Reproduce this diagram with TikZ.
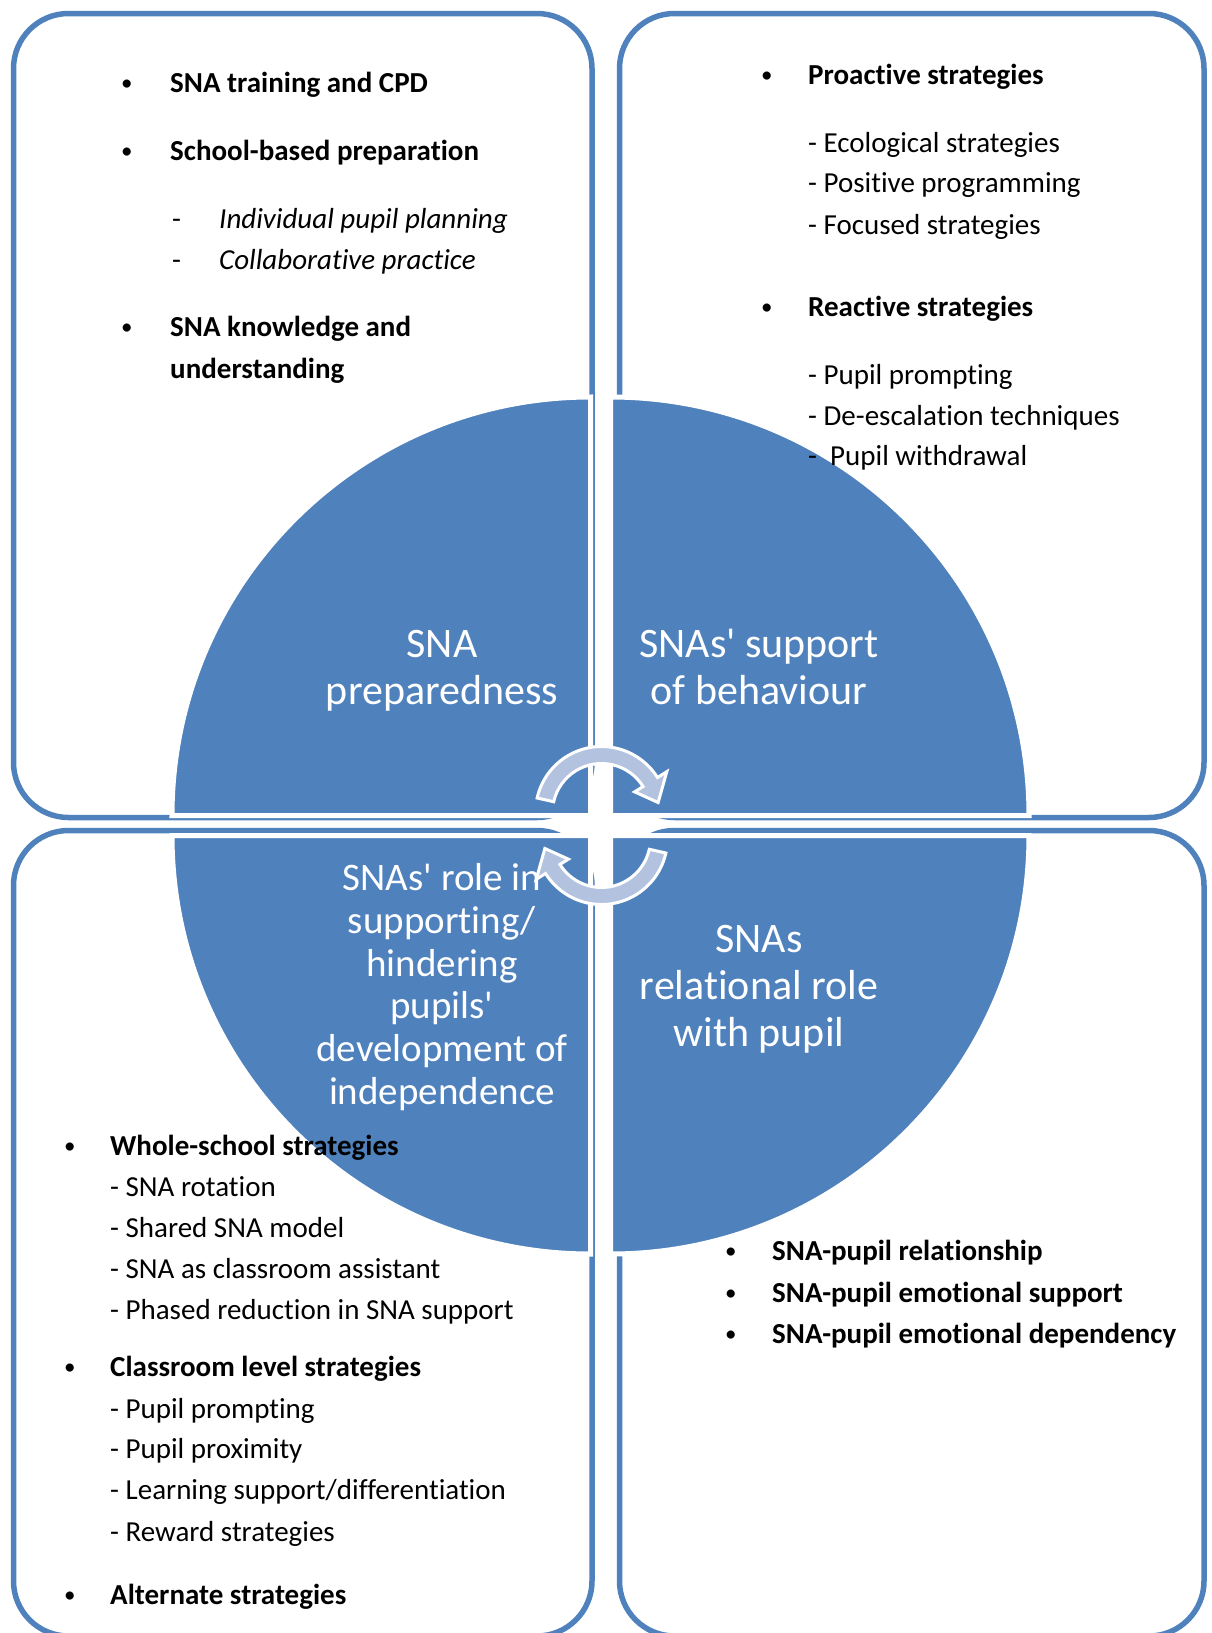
\documentclass[tikz,border=0pt]{standalone}
\usepackage{fontspec}
\setmainfont{Carlito}[Ligatures=NoCommon]
\definecolor{accent}{HTML}{4F81BD}
\definecolor{arrowfill}{HTML}{B3C3DF}
\begin{document}
\begin{tikzpicture}[x=1pt,y=-1pt,
  box/.style={draw=accent, line width=5.5pt, rounded corners=55pt},
  pie/.style={fill=accent, draw=white, line width=5pt},
  item/.style={anchor=base west, inner sep=0pt, font=\fontsize{29}{35}\selectfont},
  bitem/.style={anchor=base west, inner sep=0pt, font=\fontsize{29}{35}\selectfont\bfseries},
  iitem/.style={anchor=base west, inner sep=0pt, font=\fontsize{29}{35}\selectfont\itshape},
  bul/.style={anchor=base west, inner sep=0pt, font=\fontsize{23}{35}\selectfont},
  lab/.style={anchor=base, inner sep=0pt, text=white, font=\fontsize{42}{47}\selectfont},
  labs/.style={anchor=base, inner sep=0pt, text=white, font=\fontsize{39}{43}\selectfont},
  circarrow/.style={fill=arrowfill, draw=white, line width=3pt, line join=miter}
]
\useasboundingbox (0,0) rectangle (1211,1633);
\begin{scope}
\clip (0,0) rectangle (1211,1633);
% boxes
\draw[box] (13.5,13.5) rectangle (592,817.5);
\draw[box] (619.5,13.5) rectangle (1204,817.5);
\draw[box] (13.5,830.5) rectangle (592,1636);
\draw[box] (619.5,830.5) rectangle (1204,1636);
% pie quarters
\draw[pie] (590.5,815.5) -- (172,815.5) arc (180:270:418.5) -- cycle;
\draw[pie] (610.5,815.5) -- (610.5,397) arc (270:360:418.5) -- cycle;
\draw[pie] (590.5,835.5) -- (590.5,1254) arc (90:180:418.5) -- cycle;
\draw[pie] (610.5,835.5) -- (1029,835.5) arc (0:90:418.5) -- cycle;
\end{scope}
% circular arrows
\begin{scope}[shift={(601.5,812.5)}]
\draw[circarrow] (192.7:66) arc (192.7:328:66) -- (328:77) -- (350:57.5) -- (328:39) -- (328:49) arc (328:192.7:49) -- cycle;
\end{scope}
\begin{scope}[shift={(601.5,838.5)}]
\draw[circarrow] (12.7:66) arc (12.7:148:66) -- (148:77) -- (170:57.5) -- (148:39) -- (148:49) arc (148:12.7:49) -- cycle;
\end{scope}
% centre labels
\node[lab] (p1) at (442,657) {SNA};
\node[lab] (p2) at (442,704) {preparedness};
\node[lab] (s1) at (759,657) {SNAs\textquotesingle{} support};
\node[lab] (s2) at (759,704) {of behaviour};
\node[labs] (r1) at (442,890) {SNAs\textquotesingle{} role in};
\node[labs] (r2) at (442,933) {supporting/};
\node[labs] (r3) at (442,976) {hindering};
\node[labs] (r4) at (442,1018) {pupils\textquotesingle};
\node[labs] (r5) at (442,1061) {development of};
\node[labs] (r6) at (442,1104) {independence};
\node[lab] (q1) at (759,952) {SNAs};
\node[lab] (q2) at (759,999) {relational role};
\node[lab] (q3) at (759,1046) {with pupil};
% top-left list
\node[bul] (tlb1) at (121,90) {•};
\node[bitem] (tl1) at (170,92) {SNA training and CPD};
\node[bul] (tlb2) at (121,158) {•};
\node[bitem] (tl2) at (170,160) {School-based preparation};
\node[item] (tld1) at (172,228) {-};
\node[iitem] (tl3) at (219,228) {Individual pupil planning};
\node[item] (tld2) at (172,269) {-};
\node[iitem] (tl4) at (219,269) {Collaborative practice};
\node[bul] (tlb3) at (121,334) {•};
\node[bitem] (tl5) at (170,336) {SNA knowledge and};
\node[bitem] (tl6) at (170,378) {understanding};
% top-right list
\node[bul] (trb1) at (761,82) {•};
\node[bitem] (tr1) at (808,84) {Proactive strategies};
\node[item] (tr2) at (808,152) {- Ecological strategies};
\node[item] (tr3) at (808,192) {- Positive programming};
\node[item] (tr4) at (808,234) {- Focused strategies};
\node[bul] (trb2) at (761,314) {•};
\node[bitem] (tr5) at (808,316) {Reactive strategies};
\node[item] (tr6) at (808,384) {- Pupil prompting};
\node[item] (tr7) at (808,425) {- De-escalation techniques};
\node[item] (tr8) at (808,465) {-\ \ Pupil withdrawal};
% bottom-left list
\node[bul] (blb1) at (64,1153) {•};
\node[bitem] (bl1) at (110,1155) {Whole-school strategies};
\node[item] (bl2) at (110,1196) {- SNA rotation};
\node[item] (bl3) at (110,1237) {- Shared SNA model};
\node[item] (bl4) at (110,1278) {- SNA as classroom assistant};
\node[item] (bl5) at (110,1319) {- Phased reduction in SNA support};
\node[bul] (blb2) at (64,1374) {•};
\node[bitem] (bl6) at (110,1376) {Classroom level strategies};
\node[item] (bl7) at (110,1418) {- Pupil prompting};
\node[item] (bl8) at (110,1458) {- Pupil proximity};
\node[item] (bl9) at (110,1499) {- Learning support/differentiation};
\node[item] (bl10) at (110,1541) {- Reward strategies};
\node[bul] (blb3) at (64,1602) {•};
\node[bitem] (bl11) at (110,1604) {Alternate strategies};
% bottom-right list
\node[bul] (brb1) at (725,1258) {•};
\node[bitem] (br1) at (772,1260) {SNA-pupil relationship};
\node[bul] (brb2) at (725,1300) {•};
\node[bitem] (br2) at (772,1302) {SNA-pupil emotional support};
\node[bul] (brb3) at (725,1341) {•};
\node[bitem] (br3) at (772,1343) {SNA-pupil emotional dependency};
\end{tikzpicture}
\end{document}
